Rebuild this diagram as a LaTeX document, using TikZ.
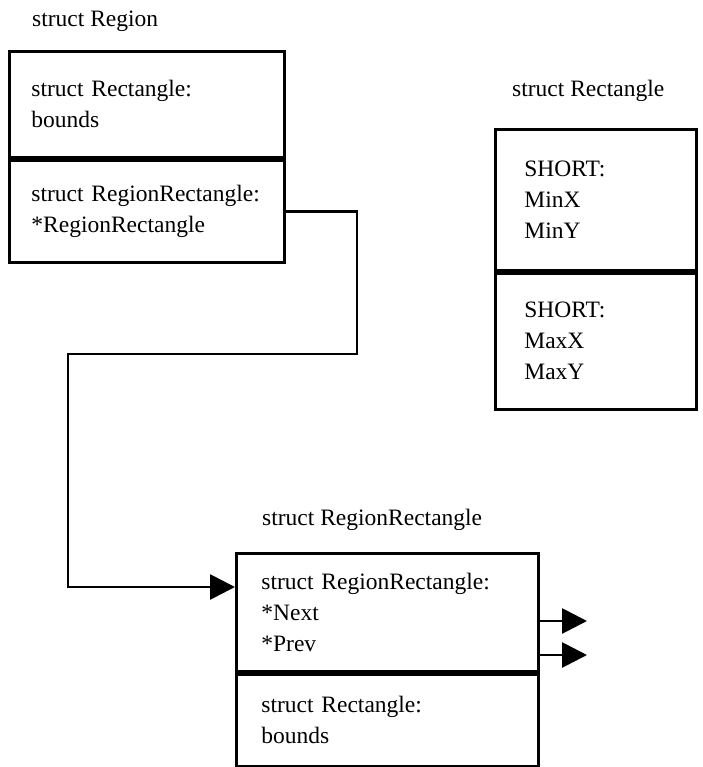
\documentclass[tikz,border=0pt]{standalone}
\usepackage{fontspec}
\setmainfont{Liberation Serif}
\usetikzlibrary{arrows.meta,positioning}
\newcommand{\boxfont}{\fontsize{23.5}{31}\selectfont}

\begin{document}
\begin{tikzpicture}[x=1pt, y=-1pt,
    field/.style={draw, line width=2.8pt, align=left, inner ysep=0pt, font=\boxfont},
    title/.style={anchor=base west, inner sep=0pt, font=\boxfont},
    ptr/.style={line width=2.8pt, -{Triangle[length=25pt,width=25pt]}}]
  \useasboundingbox (0,0) rectangle (702,767);

  \node[title] (regT) at (32,27) {struct Region};
  \node[field, anchor=north west, inner xsep=22pt, text width=231pt, minimum height=106pt] (reg1) at (8,50) {struct Rectangle:\\ bounds};
  \node[field, inner xsep=22pt, text width=231pt, minimum height=102pt, below=0pt of reg1] (reg2) {struct~RegionRectangle:\\ {*}RegionRectangle};

  \node[title] (rectT) at (512,97) {struct Rectangle};
  \node[field, anchor=north west, inner xsep=29pt, text width=143pt, minimum height=141pt] (rect1) at (494,128) {SHORT:\\ MinX\\ MinY};
  \node[field, inner xsep=29pt, text width=143pt, minimum height=136pt, below=0pt of rect1] (rect2) {SHORT:\\ MaxX\\ MaxY};

  \node[title] (rrT) at (262,525) {struct RegionRectangle};
  \node[field, anchor=north west, inner xsep=25pt, text width=252pt, minimum height=118pt] (rr1) at (235,552) {struct~RegionRectangle:\\ {*}Next\\ {*}Prev};
  \node[field, inner xsep=25pt, text width=252pt, minimum height=92pt, below=0pt of rr1] (rr2) {struct Rectangle:\\ bounds};

  \coordinate (bend) at (357,354);
  \coordinate (drop) at (68,587);
  \coordinate (next) at (587,621);
  \coordinate (prev) at (587,655);

  \draw[ptr] (reg2.east) -| (bend) -| (drop) -- (rr1.west |- drop);
  \draw[ptr] (rr1.east |- next) -- (next);
  \draw[ptr] (rr1.east |- prev) -- (prev);
\end{tikzpicture}
\end{document}
